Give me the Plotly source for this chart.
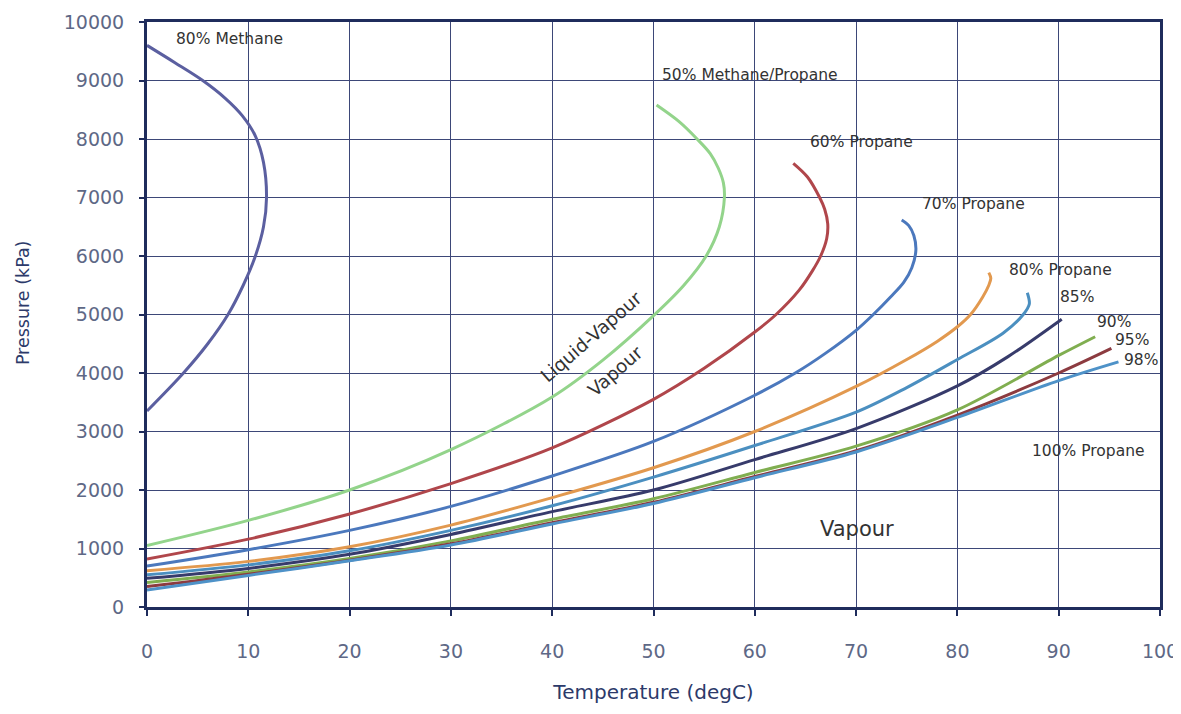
import plotly.graph_objects as go

# ---- data (temperature degC, pressure kPa) ----
methane80_t = [0, 2.8, 5.5, 7.7, 9.4, 10.7, 11.5, 11.8, 11.5, 10.7, 9.5, 8.0, 6.0, 3.6, 0]
methane80_p = [9600, 9300, 9000, 8700, 8400, 8050, 7600, 7000, 6500, 6000, 5500, 5000, 4500, 4000, 3350]

mix50_t = [0, 10, 20, 30, 40, 45, 50, 53.0, 55.2, 56.5, 57.0, 56.9, 56.4, 55.6, 54.3, 52.5, 50.3]
mix50_p = [1050, 1480, 2000, 2690, 3590, 4220, 4980, 5500, 6000, 6500, 7000, 7250, 7500, 7750, 8000, 8300, 8580]

prop60_t = [0, 10, 20, 30, 40, 50, 55, 60, 62.1, 64.4, 65.7, 66.5, 67.1, 67.2, 66.9, 66.4, 65.2, 63.8]
prop60_p = [820, 1160, 1590, 2110, 2720, 3550, 4080, 4700, 5000, 5420, 5750, 6000, 6300, 6550, 6800, 7000, 7350, 7584]

prop70_t = [0, 10, 20, 30, 40, 50, 60, 64, 67, 70, 71.7, 73.4, 74.7, 75.5, 75.9, 75.7, 75.2, 74.5]
prop70_p = [700, 980, 1310, 1720, 2240, 2830, 3620, 4000, 4340, 4730, 5000, 5300, 5550, 5800, 6100, 6350, 6520, 6615]

prop80_t = [0, 10, 20, 30, 40, 50, 60, 70, 75, 78, 80, 81.3, 82.5, 83.1, 83.3, 83.1]
prop80_p = [620, 780, 1030, 1400, 1870, 2380, 3000, 3770, 4230, 4540, 4790, 5000, 5300, 5500, 5620, 5716]

prop85_t = [0, 10, 20, 30, 40, 50, 60, 70, 75, 80, 84.5, 86.5, 87.1, 86.9]
prop85_p = [550, 720, 960, 1310, 1730, 2220, 2760, 3330, 3750, 4230, 4680, 5000, 5180, 5373]

prop90_t = [0, 10, 20, 30, 40, 50, 60, 70, 80, 85, 90.3]
prop90_p = [490, 660, 900, 1240, 1630, 2000, 2520, 3050, 3780, 4280, 4920]

prop95_t = [0, 10, 20, 30, 40, 50, 60, 70, 80, 90, 93.6]
prop95_p = [420, 600, 830, 1130, 1500, 1850, 2300, 2750, 3370, 4300, 4620]

prop98_t = [0, 10, 20, 30, 40, 50, 60, 70, 80, 90, 95.2]
prop98_p = [350, 560, 800, 1080, 1440, 1790, 2230, 2670, 3280, 4000, 4420]

prop100_t = [0, 10, 20, 30, 40, 50, 60, 70, 80, 90, 95.9]
prop100_p = [290, 540, 790, 1060, 1420, 1770, 2210, 2650, 3240, 3870, 4190]

series_names = ["80% Methane", "50% Methane/Propane", "60% Propane", "70% Propane",
                "80% Propane", "85%", "90%", "95%", "98%", "100% Propane"]

x_ticks = [0, 10, 20, 30, 40, 50, 60, 70, 80, 90, 100]
y_ticks = [0, 1000, 2000, 3000, 4000, 5000, 6000, 7000, 8000, 9000, 10000]
y_tick_text = ["0", "1000", "2000", "3000", "4000", "5000", "6000", "7000", "8000", "9000", "10000"]

# label positions (data coords)
label_text = ["80% Methane", "50% Methane/Propane", "60% Propane", "70% Propane",
              "80% Propane", "85%", "90%", "95%", "98%", "100% Propane"]
label_x = [2.7, 50.6, 65.3, 76.3, 84.9, 89.9, 93.6, 95.4, 96.2, 87.2]
label_y = [9710, 9094, 7950, 6890, 5760, 5300, 4870, 4560, 4220, 2670]

series = [
    (methane80_t, methane80_p, "#5b5fa0"),
    (mix50_t, mix50_p, "#93d48b"),
    (prop60_t, prop60_p, "#b0464b"),
    (prop70_t, prop70_p, "#4b78bd"),
    (prop80_t, prop80_p, "#e2994f"),
    (prop85_t, prop85_p, "#4b8fc0"),
    (prop90_t, prop90_p, "#373b6b"),
    (prop95_t, prop95_p, "#80ae50"),
    (prop98_t, prop98_p, "#8c3b40"),
    (prop100_t, prop100_p, "#4e92c8"),
]

fig = go.Figure()
for (t, p, c), name in zip(series, series_names):
    fig.add_trace(go.Scatter(x=t, y=p, mode="lines", name=name,
                             line=dict(color=c, width=3, shape="spline", smoothing=0.9),
                             hoverinfo="skip"))

text_font = dict(family="DejaVu Sans", size=15.5, color="#333333")
for txt, x, y in zip(label_text, label_x, label_y):
    fig.add_annotation(x=x, y=y, text=txt, showarrow=False, xanchor="left",
                       yanchor="middle", font=text_font)

fig.add_annotation(x=70.1, y=1333, text="Vapour", showarrow=False,
                   font=dict(family="DejaVu Sans", size=21, color="#333333"))
fig.add_annotation(x=43.9, y=4620, text="Liquid-Vapour", showarrow=False, textangle=-41,
                   font=dict(family="DejaVu Sans", size=18.5, color="#333333"))
fig.add_annotation(x=46.2, y=4020, text="Vapour", showarrow=False, textangle=-41,
                   font=dict(family="DejaVu Sans", size=18.5, color="#333333"))

# y-axis title placed as a paper annotation to match the reference position
fig.add_annotation(xref="paper", yref="paper", x=-0.1225, y=0.521, text="Pressure (kPa)",
                   showarrow=False, textangle=-90, xanchor="center", yanchor="middle",
                   font=dict(family="DejaVu Sans", size=17.5, color="#2c3a6a"))

axis_line = "#1f2c5c"
grid = "#3d4778"
tick_font = dict(family="DejaVu Sans", size=19, color="#5e6886")

fig.update_xaxes(range=[0, 100], tickvals=x_ticks, showgrid=True, gridcolor=grid, gridwidth=1,
                 showline=True, linecolor=axis_line, linewidth=3, mirror=True,
                 ticks="outside", ticklen=6, tickcolor=axis_line, tickwidth=2,
                 ticklabelstandoff=19, tickfont=tick_font, zeroline=False, automargin=False,
                 title=dict(text="Temperature (degC)", standoff=25,
                            font=dict(family="DejaVu Sans", size=20, color="#2c3a6a")))
fig.update_yaxes(range=[0, 10000], tickvals=y_ticks, ticktext=y_tick_text,
                 showgrid=True, gridcolor=grid, gridwidth=1,
                 showline=True, linecolor=axis_line, linewidth=3, mirror=True,
                 ticks="outside", ticklen=5, tickcolor=axis_line, tickwidth=2,
                 ticklabelstandoff=11, tickfont=tick_font, zeroline=False, automargin=False)

# page body has an 8px default margin; compensate so the plot area lands where the reference's does
fig.update_layout(width=1173, height=706, showlegend=False,
                  margin=dict(l=139, r=21, t=14, b=107),
                  plot_bgcolor="white", paper_bgcolor="white")

fig.write_html("out.html")
